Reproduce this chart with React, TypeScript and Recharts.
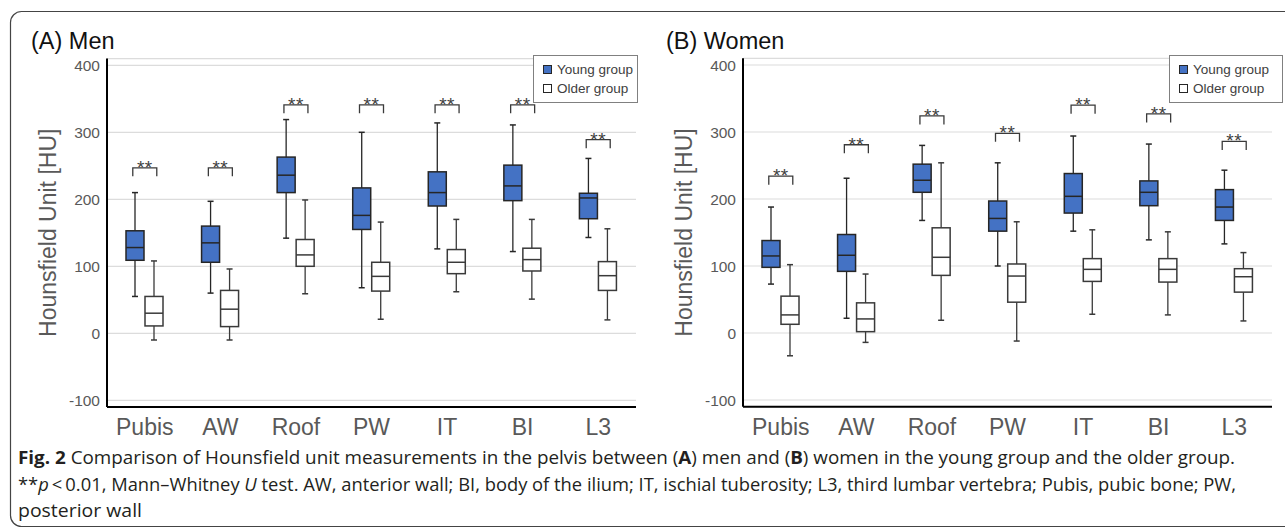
import React from "react";
import { Bar, CartesianGrid, ComposedChart, Legend, Scatter, XAxis, YAxis } from "recharts";

const categories = ["Pubis", "AW", "Roof", "PW", "IT", "BI", "L3"];
const yTicks = [-100, 0, 100, 200, 300, 400];

// each entry: [min, q1, median, q3, max]
const menYoung = [
  [55, 109, 128, 153, 210],
  [60, 106, 135, 160, 197],
  [142, 210, 236, 263, 319],
  [68, 155, 176, 217, 300],
  [126, 190, 210, 241, 314],
  [122, 198, 220, 251, 311],
  [143, 171, 202, 209, 261],
];
const menOlder = [
  [-10, 11, 30, 55, 108],
  [-10, 10, 36, 64, 96],
  [59, 100, 117, 140, 199],
  [21, 63, 85, 106, 166],
  [62, 89, 106, 125, 170],
  [51, 93, 110, 127, 170],
  [20, 64, 86, 107, 156],
];
const menSig = [247, 247, 341, 341, 341, 341, 289];

const womenYoung = [
  [73, 98, 115, 138, 188],
  [22, 92, 116, 147, 231],
  [168, 210, 228, 252, 280],
  [100, 152, 171, 197, 254],
  [152, 179, 204, 238, 294],
  [139, 190, 210, 227, 282],
  [133, 168, 188, 214, 243],
];
const womenOlder = [
  [-34, 13, 27, 55, 102],
  [-14, 2, 21, 45, 88],
  [19, 86, 113, 157, 254],
  [-12, 46, 85, 103, 166],
  [28, 77, 95, 111, 154],
  [27, 76, 95, 111, 151],
  [18, 61, 84, 96, 120],
];
const womenSig = [234, 281, 324, 298, 340, 327, 286];

const FONT = "'Liberation Sans', Arial, sans-serif";
const BLUE = "#4472c4";
const GRAY = "#595959";

function buildRows(young: number[][], older: number[][], sig: number[]) {
  return categories.map((name, i) => ({ name, young: young[i], older: older[i], sig: sig[i] }));
}

function BoxShape(props: any) {
  const { x, y, width, height, payload, group } = props;
  const s: number[] = payload[group];
  const [lo, q1, med, q3, hi] = s;
  const top = Math.min(y, y + height);
  const h = Math.abs(height);
  const py = (v: number) => top + (h * (hi - v)) / (hi - lo);
  const cx = x + width / 2;
  const young = group === "young";
  const stroke = young ? "#262626" : "#3a3a3a";
  return (
    <g>
      <line x1={cx} x2={cx} y1={py(hi)} y2={py(lo)} stroke={stroke} strokeWidth={1.3} />
      <line x1={cx - 3} x2={cx + 3} y1={py(hi)} y2={py(hi)} stroke={stroke} strokeWidth={1.5} />
      <line x1={cx - 3} x2={cx + 3} y1={py(lo)} y2={py(lo)} stroke={stroke} strokeWidth={1.5} />
      <rect
        x={x}
        y={py(q3)}
        width={width}
        height={py(q1) - py(q3)}
        fill={young ? BLUE : "#ffffff"}
        stroke={stroke}
        strokeWidth={1.5}
      />
      <line x1={x} x2={x + width} y1={py(med)} y2={py(med)} stroke={stroke} strokeWidth={1.5} />
    </g>
  );
}

function Bracket(props: any) {
  const { cx, cy } = props;
  if (cx == null || cy == null) return <g />;
  return (
    <g>
      <path
        d={`M${cx - 12},${cy + 8.5} V${cy} H${cx + 12} V${cy + 8.5}`}
        fill="none"
        stroke="#3a3a3a"
        strokeWidth={1.3}
      />
      <text x={cx} y={cy + 6} textAnchor="middle" fontFamily={FONT} fontSize={19} fill="#404040" letterSpacing={0.5}>
        **
      </text>
    </g>
  );
}

function LegendBox({ width }: { width: number }) {
  const sw = (fill: string) => ({
    display: "inline-block",
    width: 7,
    height: 7,
    background: fill,
    border: "1px solid #262626",
    marginRight: 5,
  });
  return (
    <div
      style={{
        width,
        boxSizing: "border-box",
        border: "1px solid #808080",
        background: "#fff",
        padding: "4px 0 4px 9px",
        fontFamily: FONT,
        fontSize: 13.5,
        color: "#404040",
        lineHeight: "19px",
        whiteSpace: "nowrap",
      }}
    >
      <div style={{ display: "flex", alignItems: "center" }}>
        <span style={sw(BLUE)} />
        Young group
      </div>
      <div style={{ display: "flex", alignItems: "center" }}>
        <span style={sw("#fff")} />
        Older group
      </div>
    </div>
  );
}

function Panel({
  young,
  older,
  sig,
  top,
  legendWidth,
}: {
  young: number[][];
  older: number[][];
  sig: number[];
  top: number;
  legendWidth: number;
}) {
  const rows = buildRows(young, older, sig);
  return (
    <ComposedChart
      width={650}
      height={450}
      data={rows}
      margin={{ top, right: 14, bottom: 0, left: 0 }}
      barSize={18}
      barGap={1}
    >
      <CartesianGrid stroke="#dcdcdc" strokeWidth={1.2} vertical={false} />
      <XAxis
        dataKey="name"
        interval={0}
        tickLine={false}
        axisLine={{ stroke: "#000", strokeWidth: 2 }}
        tick={{ fill: GRAY, fontSize: 23, fontFamily: FONT }}
        tickMargin={6}
        height={450 - top - 348.4}
      />
      <YAxis
        type="number"
        domain={[-110, 410]}
        ticks={yTicks}
        interval={0}
        width={107}
        tickLine={false}
        axisLine={{ stroke: "#000", strokeWidth: 2 }}
        tick={{ fill: GRAY, fontSize: 15.5, fontFamily: FONT }}
        tickMargin={1}
        label={(p: any) => {
          const vb = p.viewBox;
          const lx = 48;
          const ly = vb.y + vb.height / 2;
          return (
            <text
              x={lx}
              y={ly}
              transform={`rotate(-90 ${lx} ${ly})`}
              textAnchor="middle"
              dominantBaseline="central"
              fontFamily={FONT}
              fontSize={23}
              fill={GRAY}
            >
              Hounsfield Unit [HU]
            </text>
          );
        }}
      />
      <Legend
        layout="vertical"
        align="center"
        verticalAlign="middle"
        wrapperStyle={{ left: 533, top: 55, width: legendWidth }}
        content={() => <LegendBox width={legendWidth} />}
      />
      <Bar
        dataKey={(d: any) => [d.young[0], d.young[4]]}
        name="Young group"
        isAnimationActive={false}
        shape={(p: any) => <BoxShape {...p} group="young" />}
      />
      <Bar
        dataKey={(d: any) => [d.older[0], d.older[4]]}
        name="Older group"
        isAnimationActive={false}
        shape={(p: any) => <BoxShape {...p} group="older" />}
      />
      <Scatter dataKey="sig" isAnimationActive={false} shape={(p: any) => <Bracket {...p} />} />
    </ComposedChart>
  );
}

export default function App() {
  return (
    <div style={{ position: "absolute", left: 0, top: 0, width: 1285, height: 528, background: "#fff", overflow: "hidden" }}>
      <svg width={1285} height={528} style={{ position: "absolute", left: 0, top: 0 }}>
        <rect x={10.5} y={11.5} width={1320} height={515} rx={11} fill="none" stroke="#444" strokeWidth={1.2} />
        <text x={31} y={49} fontFamily={FONT} fontSize={23.5} fill="#111">
          (A) Men
        </text>
        <text x={666} y={49} fontFamily={FONT} fontSize={23.5} fill="#111">
          (B) Women
        </text>
        <g fontFamily="'Open Sans', 'Noto Sans', sans-serif" fontSize={17.5} fill="#231f20" style={{ whiteSpace: "pre" }}>
          <text x={18} y={464} textLength={1217} lengthAdjust="spacingAndGlyphs">
            <tspan fontWeight="bold">Fig. 2</tspan>
            {"  Comparison of Hounsfield unit measurements in the pelvis between ("}
            <tspan fontWeight="bold">A</tspan>
            {") men and ("}
            <tspan fontWeight="bold">B</tspan>
            {") women in the young group and the older group."}
          </text>
          <text x={18} y={490.5} textLength={1218} lengthAdjust="spacingAndGlyphs">
            {"**"}
            <tspan fontStyle="italic">p</tspan>
            {"\u2009<\u20090.01, Mann\u2013Whitney "}
            <tspan fontStyle="italic">U</tspan>
            {" test. AW, anterior wall; BI, body of the ilium; IT, ischial tuberosity; L3, third lumbar vertebra; Pubis, pubic bone; PW,"}
          </text>
          <text x={18} y={517} textLength={124} lengthAdjust="spacingAndGlyphs">
            posterior wall
          </text>
        </g>
      </svg>
      <div style={{ position: "absolute", left: 0, top: 0 }}>
        <Panel young={menYoung} older={menOlder} sig={menSig} top={58.6} legendWidth={105} />
      </div>
      <div style={{ position: "absolute", left: 636, top: 0 }}>
        <Panel young={womenYoung} older={womenOlder} sig={womenSig} top={58.3} legendWidth={114} />
      </div>
    </div>
  );
}
